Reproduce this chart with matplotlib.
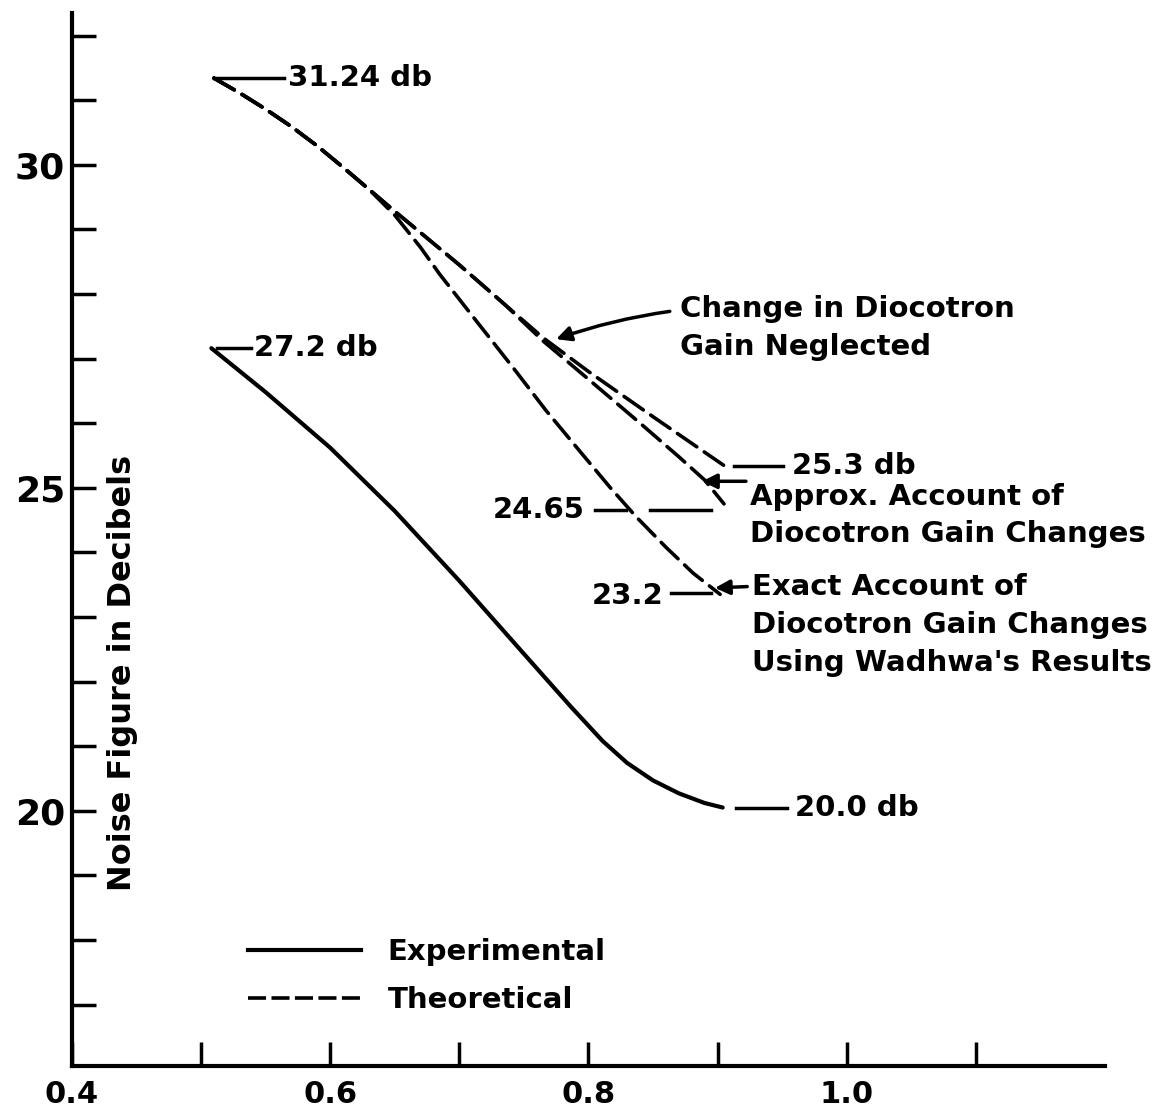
import matplotlib.pyplot as plt
from matplotlib.lines import Line2D

plt.rcParams['font.family'] = ['DejaVu Sans']
plt.rcParams['font.weight'] = 'bold'

# experimental curve
exp_x = [0.508, 0.55, 0.60, 0.65, 0.70, 0.75, 0.786, 0.811, 0.83, 0.85, 0.87, 0.89, 0.904]
exp_y = [27.16, 26.48, 25.62, 24.64, 23.56, 22.43, 21.62, 21.08, 20.74, 20.47, 20.27, 20.12, 20.05]

# theoretical curves, common start
theo_x = [0.51, 0.53, 0.55, 0.57, 0.59, 0.61, 0.63]
theo_y = [31.34, 31.11, 30.86, 30.59, 30.29, 29.96, 29.62]

# change in diocotron gain neglected
negl_x = [0.65, 0.70, 0.735, 0.765, 0.80, 0.85, 0.906]
negl_y = [29.28, 28.45, 27.84, 27.32, 26.8, 26.1, 25.33]

# approx. account of gain changes
appr_x = [0.65, 0.70, 0.735, 0.765, 0.80, 0.84, 0.87, 0.89, 0.905]
appr_y = [29.28, 28.45, 27.84, 27.27, 26.68, 26.0, 25.48, 25.12, 24.75]

# exact account (Wadhwa)
exact_x = [0.65, 0.67, 0.685, 0.716, 0.742, 0.767, 0.794, 0.817, 0.837, 0.86, 0.881, 0.902]
exact_y = [29.22, 28.72, 28.3, 27.51, 26.85, 26.2, 25.55, 25.0, 24.55, 24.08, 23.68, 23.35]

xticks = [0.4, 0.5, 0.6, 0.7, 0.8, 0.9, 1.0, 1.1]
xticklabels = ['0.4', '', '0.6', '', '0.8', '', '1.0', '']
yticks = list(range(17, 33))
yticklabels = [str(v) if v in (20, 25, 30) else '' for v in yticks]

fs = 21
dash = (6.5, 2.5)

fig = plt.figure(figsize=(11.6, 11.12), dpi=100)
ax = fig.add_axes([0.062, 0.0414, 0.8905, 0.947])
ax.set_xlim(0.4, 1.2)
ax.set_ylim(16.05, 32.35)

ax.plot(exp_x, exp_y, color='black', lw=3, solid_capstyle='round')
for bx, by in [(negl_x, negl_y), (appr_x, appr_y), (exact_x, exact_y)]:
    ax.plot(theo_x + bx, theo_y + by, color='black', lw=2.6, dashes=dash,
            dash_capstyle='round')

# value labels with leader lines
ax.plot([0.51, 0.564], [31.34, 31.34], color='black', lw=2.5)
ax.text(0.567, 31.34, '31.24 db', fontsize=fs, va='center', ha='left')
ax.plot([0.512, 0.539], [27.16, 27.16], color='black', lw=2.5)
ax.text(0.541, 27.16, '27.2 db', fontsize=fs, va='center', ha='left')
ax.plot([0.913, 0.951], [25.33, 25.33], color='black', lw=2.5)
ax.text(0.958, 25.33, '25.3 db', fontsize=fs, va='center', ha='left')
ax.plot([0.805, 0.829], [24.65, 24.65], color='black', lw=2.5)
ax.plot([0.848, 0.895], [24.65, 24.65], color='black', lw=2.5)
ax.text(0.797, 24.65, '24.65', fontsize=fs, va='center', ha='right')
ax.plot([0.864, 0.895], [23.37, 23.37], color='black', lw=2.5)
ax.text(0.858, 23.33, '23.2', fontsize=fs, va='center', ha='right')
ax.plot([0.914, 0.954], [20.05, 20.05], color='black', lw=2.5)
ax.text(0.960, 20.05, '20.0 db', fontsize=fs, va='center', ha='left')

arrow = dict(arrowstyle='-|>', color='black', lw=2.5, mutation_scale=22,
             shrinkA=0, shrinkB=0)
ax.annotate('', xy=(0.775, 27.3), xytext=(0.863, 27.73),
            arrowprops=dict(arrow, connectionstyle='arc3,rad=0.05'))
ax.text(0.871, 27.47, 'Change in Diocotron\nGain Neglected', fontsize=fs,
        va='center', ha='left', linespacing=1.45)
ax.annotate('', xy=(0.888, 25.1), xytext=(0.922, 25.1), arrowprops=arrow)
ax.text(0.925, 24.57, 'Approx. Account of\nDiocotron Gain Changes',
        fontsize=fs, va='center', ha='left', linespacing=1.45)
ax.annotate('', xy=(0.898, 23.45), xytext=(0.923, 23.47), arrowprops=arrow)
ax.text(0.927, 22.87,
        "Exact Account of\nDiocotron Gain Changes\nUsing Wadhwa's Results",
        fontsize=fs, va='center', ha='left', linespacing=1.45)

ax.text(0.439, 22.13, 'Noise Figure in Decibels', fontsize=23, rotation=90,
        va='center', ha='center')

handles = [Line2D([], [], color='black', lw=3),
           Line2D([], [], color='black', lw=2.6, dashes=(5, 1.5))]
ax.legend(handles, ['Experimental', 'Theoretical'], loc='center left',
          bbox_to_anchor=(0.17, 0.0855), frameon=False,
          prop={'size': fs, 'weight': 'bold'},
          handlelength=3.9, handletextpad=0.9, labelspacing=0.7,
          borderpad=0, borderaxespad=0)

for side in ['top', 'right']:
    ax.spines[side].set_visible(False)
for side in ['left', 'bottom']:
    ax.spines[side].set_linewidth(3)

ax.set_xticks(xticks)
ax.set_xticklabels(xticklabels)
ax.set_yticks(yticks)
ax.set_yticklabels(yticklabels)
ax.tick_params(direction='in', length=17, width=2.5, pad=10)
ax.tick_params(axis='x', labelsize=22)
ax.tick_params(axis='y', labelsize=26, pad=5)

fig.savefig('out.png', dpi=100)
